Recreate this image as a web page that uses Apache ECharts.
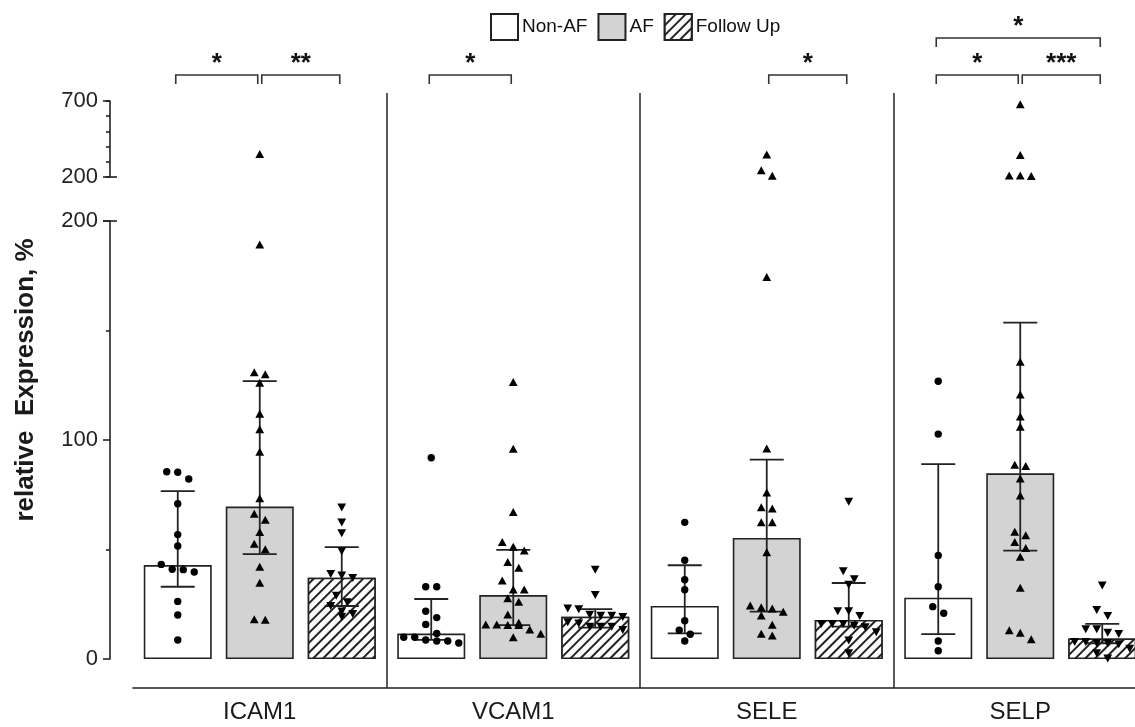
<!DOCTYPE html>
<html><head><meta charset="utf-8">
<script src="https://cdn.jsdelivr.net/npm/echarts@6/dist/echarts.min.js"></script>
<style>html,body{margin:0;padding:0;background:#fff}#c{width:1135px;height:727px}</style>
</head><body><div id="c"></div>
<script>
// ---------------- data ----------------
const categories = ['ICAM1', 'VCAM1', 'SELE', 'SELP'];
const groupNames = ['Non-AF', 'AF', 'Follow Up'];

// bar heights
const barNonAF = [42.9, 11.6, 24.2, 28.0];
const barAF    = [69.6, 29.2, 55.3, 84.8];
const barFU    = [37.1, 19.3, 17.8, 9.4];

// error bars [low, high]
const errNonAF = [[33.0, 76.7], [8.7, 27.4], [11.7, 42.8], [11.4, 89.0]];
const errAF    = [[47.9, 126.9], [15.5, 49.8], [21.6, 91.0], [49.5, 153.6]];
const errFU    = [[24.2, 51.1], [14.3, 22.8], [14.8, 34.7], [7.2, 16.0]];

// individual points per category
const ptsNonAF = [
  [85.3, 82.2, 85.5, 70.9, 56.8, 51.6, 40.8, 39.7, 41.0, 43.2, 26.3, 20.1, 8.7],
  [91.9, 33.0, 33.0, 21.8, 18.9, 15.8, 11.7, 9.9, 8.7, 8.2, 9.9, 8.2, 7.3],
  [62.4, 45.1, 36.2, 31.6, 17.5, 13.1, 11.3, 8.2],
  [126.8, 102.7, 47.3, 33.0, 23.9, 20.9, 8.2, 3.8]
];
const ptsAF = [
  [348, 189, 130.7, 129.8, 125.9, 111.7, 104.6, 94.4, 73.1, 66.1, 63.3, 57.7, 52.4, 49.8, 41.9, 34.6, 17.9, 17.7],
  [126.2, 95.7, 66.8, 51.0, 53.1, 49.3, 44.0, 41.4, 35.6, 31.5, 31.5, 25.9, 27.5, 20.1, 15.5, 15.2, 15.2, 16.3, 15.5, 13.2, 11.3, 9.7],
  [344, 241, 205, 174.1, 95.9, 75.8, 69.0, 68.4, 62.2, 62.2, 48.5, 24.2, 23.3, 21.3, 22.8, 19.6, 15.4, 11.3, 10.5],
  [675, 340, 203, 206, 206, 135.5, 120.5, 110.4, 105.8, 87.8, 88.4, 82.2, 74.4, 57.8, 56.2, 53.1, 50.4, 46.4, 32.3, 12.8, 11.7, 8.7]
];
const ptsFU = [
  [69.4, 62.6, 57.7, 49.5, 39.1, 38.4, 37.3, 29.1, 26.2, 24.5, 22.0, 20.8, 19.6],
  [41.0, 29.5, 23.3, 23.0, 20.5, 20.0, 20.0, 19.5, 16.5, 15.0, 15.0, 17.0, 15.0, 13.5],
  [72.1, 40.3, 36.7, 34.2, 22.1, 22.1, 19.9, 16.3, 15.5, 14.8, 16.3, 16.3, 12.5, 8.7, 2.9],
  [33.8, 22.7, 19.9, 13.9, 12.3, 13.9, 11.7, 8.0, 7.5, 7.0, 7.5, 8.0, 2.9, 0.5, 5.0]
];

// y axis tick values
const lowerTicks = [0, 100, 200];
const upperTicks = [200, 700];

// significance brackets: [category, fromGroup, toGroup, level]
const brackets = [[0, 0, 1, 0], [0, 1, 2, 0], [1, 0, 1, 0], [2, 1, 2, 0], [3, 0, 1, 0], [3, 1, 2, 0], [3, 0, 2, 1]];
const bracketLabels = ['*', '**', '*', '*', '*', '***', '*'];

const yTitle = 'relative  Expression, %';

// ---------------- layout constants ----------------
const FONT = '"Liberation Sans", Arial, sans-serif';
const INK = '#222';
const BAR_W = 68, BAR_GAP = 14;
const GRID_LEFT = 133, GRID_WIDTH = 1014, Y_OFFSET = 23;
const BREAK = 200;
const SPACING = 11, ROW_H = 9.5;

function groupOffset(g) { return (g - 1) * (BAR_W + BAR_GAP); }

function swarm(ys) {
  const idx = ys.map((y, i) => i).sort((a, b) => ys[a] - ys[b]);
  const off = new Array(ys.length).fill(0);
  let row = [], start = null;
  const flush = () => { row.forEach((k, j) => { off[k] = (j - (row.length - 1) / 2) * SPACING; }); };
  idx.forEach(k => {
    if (start === null || ys[k] - start > ROW_H) { flush(); row = []; start = ys[k]; }
    row.push(k);
  });
  flush();
  return off;
}

function marker(g, x, y) {
  if (g === 0) return { type: 'circle', shape: { cx: x, cy: y, r: 3.7 }, style: { fill: '#000' } };
  if (g === 1) return { type: 'polygon', shape: { points: [[x, y - 4.6], [x + 4.4, y + 3.4], [x - 4.4, y + 3.4]] }, style: { fill: '#000' } };
  return { type: 'polygon', shape: { points: [[x, y + 4.6], [x + 4.4, y - 3.4], [x - 4.4, y - 3.4]] }, style: { fill: '#000' } };
}

function pointSeries(g, pts, upper) {
  const items = [];
  pts.forEach((arr, c) => arr.forEach(v => { if ((v > BREAK) === upper) items.push([c, v]); }));
  let cache = null;
  return {
    type: 'custom', xAxisIndex: upper ? 0 : 1, yAxisIndex: upper ? 0 : 1,
    z: 5, silent: true, clip: false, data: items, encode: { x: 0, y: 1 },
    renderItem(params, api) {
      if (!cache) {
        cache = new Array(items.length).fill(0);
        categories.forEach((_, c) => {
          const ids = items.map((it, i) => i).filter(i => items[i][0] === c);
          const ys = ids.map(i => api.coord([c, items[i][1]])[1]);
          const off = swarm(ys);
          ids.forEach((i, j) => { cache[i] = off[j]; });
        });
      }
      const p = api.coord([api.value(0), api.value(1)]);
      return marker(g, p[0] + groupOffset(g) + cache[params.dataIndex], p[1]);
    }
  };
}

const errItems = [];
[errNonAF, errAF, errFU].forEach((arr, g) => arr.forEach((e, c) => errItems.push([c, g, e[0], e[1]])));

const hatch = { symbol: 'rect', symbolSize: 1, color: '#222', backgroundColor: '#fff',
  dashArrayX: [1, 0], dashArrayY: [1.4, 4.4], rotation: -Math.PI / 4 };

const barBase = { type: 'bar', xAxisIndex: 1, yAxisIndex: 1, barWidth: BAR_W, barGap: (BAR_GAP / BAR_W * 100) + '%', z: 2, silent: true };

const chart = echarts.init(document.getElementById('c'), null, { renderer: 'canvas' });

const axisLineStyle = { color: INK, width: 1.6 };
const gridBase = { left: GRID_LEFT, width: GRID_WIDTH, outerBoundsMode: 'none', containLabel: false };

const option = {
  animation: false,
  backgroundColor: '#fff',
  textStyle: { fontFamily: FONT },
  legend: {
    data: groupNames, left: 490, top: 13, padding: 0, itemWidth: 27, itemHeight: 26, itemGap: 10,
    icon: 'rect', selectedMode: false,
    textStyle: { fontSize: 19, color: '#111', fontFamily: FONT, padding: [0, 0, 0, -1] }
  },
  grid: [
    Object.assign({ top: 101, height: 76 }, gridBase),
    Object.assign({ top: 221, height: 438 }, gridBase),
    Object.assign({ top: 93, height: 595 }, gridBase)
  ],
  xAxis: [
    { gridIndex: 0, type: 'category', data: categories, show: false },
    { gridIndex: 1, type: 'category', data: categories, show: false },
    { gridIndex: 2, type: 'category', data: categories, position: 'bottom',
      axisLine: { lineStyle: axisLineStyle }, axisTick: { show: false },
      axisLabel: { fontSize: 24, color: '#1a1a1a', margin: 12, fontFamily: FONT },
      splitLine: { show: true, interval: (i) => i > 0, lineStyle: { color: '#333', width: 1.6 } } }
  ],
  yAxis: [
    { gridIndex: 0, type: 'value', min: 200, max: 700, interval: 100, position: 'left', offset: Y_OFFSET,
      axisLine: { show: true, lineStyle: axisLineStyle },
      axisTick: { show: true, length: 4, lineStyle: axisLineStyle },
      axisLabel: { fontSize: 22, color: INK, margin: 12, fontFamily: FONT,
        formatter: v => (upperTicks.indexOf(v) >= 0 ? String(v) : '') },
      splitLine: { show: false } },
    { gridIndex: 1, type: 'value', min: 0, max: 200, interval: 100, position: 'left', offset: Y_OFFSET,
      axisLine: { show: true, lineStyle: axisLineStyle },
      axisTick: { show: true, length: 7, lineStyle: axisLineStyle },
      minorTick: { show: true, splitNumber: 2, length: 4, lineStyle: axisLineStyle },
      axisLabel: { fontSize: 22, color: INK, margin: 12, fontFamily: FONT,
        formatter: v => (lowerTicks.indexOf(v) >= 0 ? String(v) : '') },
      splitLine: { show: false } },
    { gridIndex: 2, type: 'value', show: false, min: 0, max: 1 }
  ],
  series: [
    Object.assign({}, barBase, { name: groupNames[0], data: barNonAF,
      itemStyle: { color: '#fff', borderColor: INK, borderWidth: 1.6 } }),
    Object.assign({}, barBase, { name: groupNames[1], data: barAF,
      itemStyle: { color: '#d3d3d3', borderColor: INK, borderWidth: 1.6 } }),
    Object.assign({}, barBase, { name: groupNames[2], data: barFU,
      itemStyle: { color: '#fff', borderColor: INK, borderWidth: 1.6, decal: hatch } }),
    {
      type: 'custom', xAxisIndex: 1, yAxisIndex: 1, z: 4, silent: true, clip: false,
      data: errItems, encode: { x: 0, y: [2, 3] },
      renderItem(params, api) {
        const c = api.value(0), g = api.value(1);
        const x = api.coord([c, 0])[0] + groupOffset(g);
        const yl = api.coord([c, api.value(2)])[1];
        const yh = api.coord([c, api.value(3)])[1];
        const st = { stroke: INK, lineWidth: 1.8 };
        return { type: 'group', children: [
          { type: 'line', shape: { x1: x, y1: yl, x2: x, y2: yh }, style: st },
          { type: 'line', shape: { x1: x - 17, y1: yl, x2: x + 17, y2: yl }, style: st },
          { type: 'line', shape: { x1: x - 17, y1: yh, x2: x + 17, y2: yh }, style: st }
        ] };
      }
    },
    pointSeries(0, ptsNonAF, false), pointSeries(1, ptsAF, false), pointSeries(2, ptsFU, false),
    pointSeries(0, ptsNonAF, true), pointSeries(1, ptsAF, true), pointSeries(2, ptsFU, true),
    {
      type: 'custom', xAxisIndex: 0, yAxisIndex: 0, z: 6, silent: true, clip: false,
      data: brackets, encode: { x: 0, y: 3 },
      renderItem(params, api) {
        const c = api.value(0), a = api.value(1), b = api.value(2), lvl = api.value(3);
        const cx = api.coord([c, 700])[0];
        const y = params.coordSys.y - 26 - lvl * 37;
        const x1 = cx + groupOffset(a) - 2, x2 = cx + groupOffset(b) - 2;
        const st = { stroke: '#333', lineWidth: 1.6, fill: null };
        return { type: 'group', children: [
          { type: 'polyline', shape: { points: [[x1 + (a === 0 || lvl ? 0 : 4), y + 9], [x1 + (a === 0 || lvl ? 0 : 4), y], [x2, y], [x2, y + 9]] }, style: st },
          { type: 'text', x: (x1 + x2) / 2 + (a === 0 || lvl ? 0 : 2), y: y - 11,
            style: { text: bracketLabels[params.dataIndex], font: 'bold 26px ' + FONT, fill: '#111',
              textAlign: 'center', textVerticalAlign: 'middle' } }
        ] };
      }
    }
  ]
};
chart.setOption(option);

// break-style ticks and axis title
const axisX = GRID_LEFT - Y_OFFSET;
const yUp200 = chart.convertToPixel({ yAxisIndex: 0 }, 200);
const yUp700 = chart.convertToPixel({ yAxisIndex: 0 }, 700);
const yLo200 = chart.convertToPixel({ yAxisIndex: 1 }, 200);
const tickSt = { stroke: INK, lineWidth: 1.6 };
chart.setOption({
  graphic: [
    { type: 'line', shape: { x1: axisX - 7, y1: yUp700, x2: axisX, y2: yUp700 }, style: tickSt, silent: true },
    { type: 'line', shape: { x1: axisX - 7, y1: yUp200, x2: axisX + 7, y2: yUp200 }, style: tickSt, silent: true },
    { type: 'line', shape: { x1: axisX - 7, y1: yLo200, x2: axisX + 7, y2: yLo200 }, style: tickSt, silent: true },
    { type: 'text', x: 26, y: 380, rotation: Math.PI / 2, silent: true,
      style: { text: yTitle, font: 'bold 26px ' + FONT, fill: '#1a1a1a', textAlign: 'center', textVerticalAlign: 'middle' } }
  ]
});
</script>
</body></html>
